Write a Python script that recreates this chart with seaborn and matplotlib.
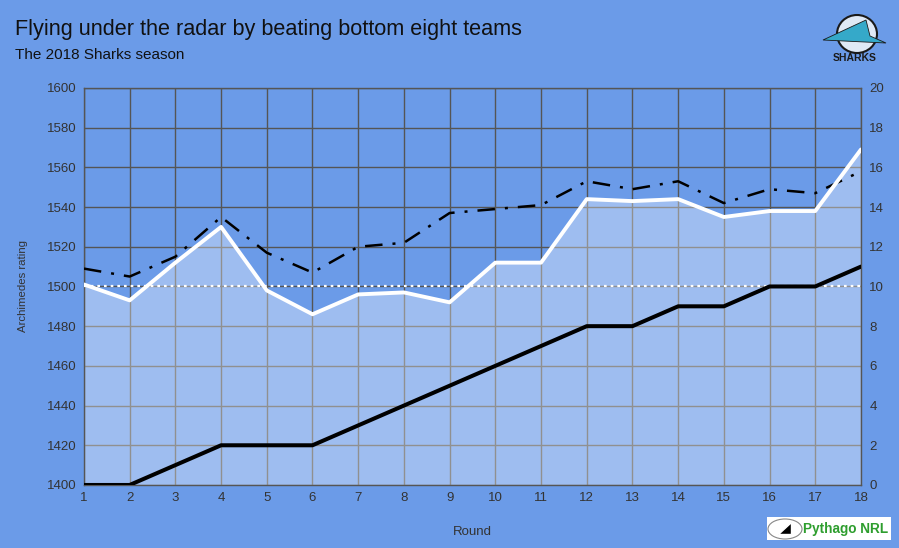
import pandas as pd
import matplotlib.pyplot as plt
import seaborn as sns
from matplotlib.patches import Ellipse, Polygon

# ---- data ----
rounds = list(range(1, 19))
sharks_rating = [1501, 1493, 1512, 1530, 1498, 1486, 1496, 1497, 1492,
                 1512, 1512, 1544, 1543, 1544, 1535, 1538, 1538, 1569]
opponent_rating = [1509, 1505, 1515, 1535, 1517, 1507, 1520, 1522, 1537,
                   1539, 1541, 1553, 1549, 1553, 1542, 1549, 1547, 1558]
wins = [0, 0, 1, 2, 2, 2, 3, 4, 5, 6, 7, 8, 8, 9, 9, 10, 10, 11]

BG = '#6b9be8'
GRID = '#555555'
TXT = '#333333'

df = pd.DataFrame({'round': rounds, 'sharks': sharks_rating,
                   'opp': opponent_rating, 'wins': wins})

sns.set_style('white')
plt.rcParams['font.family'] = ['Liberation Sans', 'DejaVu Sans']

fig = plt.figure(figsize=(8.99, 5.48), dpi=100, facecolor=BG)
ax = fig.add_axes([0.0934, 0.115, 0.8643, 0.7245])
ax.set_facecolor(BG)

# grid
ax.set_xlim(1, 18)
ax.set_ylim(1400, 1600)
ax.set_xticks(rounds)
ax.set_yticks(range(1400, 1601, 20))
ax.grid(True, color=GRID, linewidth=1)
ax.set_axisbelow(True)
for s in ax.spines.values():
    s.set_color(GRID)
    s.set_linewidth(1)

# fill under the Sharks rating
ax.fill_between(df['round'], 1400, df['sharks'], color='white', alpha=0.35,
                linewidth=0, zorder=2)

# 1500 reference line
ax.axhline(1500, color='white', linestyle=(0, (1.2, 1.8)), linewidth=1.6, zorder=3)

sns.lineplot(data=df, x='round', y='opp', ax=ax, color='black',
             linewidth=1.8, linestyle=(0, (7, 4, 1.2, 4)), zorder=4)
sns.lineplot(data=df, x='round', y='sharks', ax=ax, color='white',
             linewidth=2.8, zorder=5)

ax.tick_params(axis='x', colors=TXT, labelsize=9.5, length=0, pad=5)
ax.tick_params(axis='y', colors=TXT, labelsize=9.5, length=0, pad=5)
ax.set_xlabel('Round', color=TXT, fontsize=9.5, labelpad=16)
ax.set_ylabel('Archimedes rating', color=TXT, fontsize=8.2, labelpad=14)

# right axis: wins
ax2 = ax.twinx()
ax2.set_ylim(0, 20)
ax2.set_yticks(range(0, 21, 2))
sns.lineplot(data=df, x='round', y='wins', ax=ax2, color='black',
             linewidth=2.9, zorder=6)
ax2.set_ylabel('')
ax2.tick_params(axis='y', colors=TXT, labelsize=9.5, length=0, pad=6)
for s in ax2.spines.values():
    s.set_visible(False)

# titles
fig.text(15 / 899, 1 - 29 / 548, 'Flying under the radar by beating bottom eight teams',
         fontsize=15.6, color='#111111', va='center', ha='left')
fig.text(15 / 899, 1 - 55 / 548, 'The 2018 Sharks season',
         fontsize=11, color='#111111', va='center', ha='left')

# Sharks badge (rough stand-in for the logo)
fig.patches.append(Ellipse((857 / 899, 1 - 34 / 548), 40 / 899, 38 / 548,
                           transform=fig.transFigure, facecolor='#dfe9f5',
                           edgecolor='#1a1a1a', linewidth=1.5, zorder=1))
fig.patches.append(Polygon([(823 / 899, 1 - 40 / 548), (866 / 899, 1 - 20 / 548),
                            (870 / 899, 1 - 36 / 548), (886 / 899, 1 - 43 / 548)],
                           closed=True, transform=fig.transFigure,
                           facecolor='#35a9c9', edgecolor='#1a1a1a',
                           linewidth=0.6, zorder=2))
fig.text(855 / 899, 1 - 58 / 548, 'SHARKS', fontsize=7.5, fontweight='bold',
         color='#1a1a1a', ha='center', va='center')

# Pythago NRL badge
fig.patches.append(plt.Rectangle((767 / 899, 1 - 540 / 548), 124 / 899, 23 / 548,
                                 transform=fig.transFigure, facecolor='white',
                                 edgecolor='none', zorder=1))
fig.patches.append(Ellipse((785 / 899, 1 - 529 / 548), 34 / 899, 20 / 548,
                           transform=fig.transFigure, facecolor='white',
                           edgecolor='#888888', linewidth=0.8, zorder=2))
fig.patches.append(Polygon([(778 / 899, 1 - 534 / 548), (791 / 899, 1 - 534 / 548),
                            (791 / 899, 1 - 522 / 548)], closed=True,
                           transform=fig.transFigure, facecolor='black', zorder=3))
fig.text(803 / 899, 1 - 529 / 548, 'Pythago NRL', fontsize=9.8, fontweight='bold',
         color='#2e9e2e', ha='left', va='center')

fig.savefig('out.png', dpi=100, facecolor=BG)
